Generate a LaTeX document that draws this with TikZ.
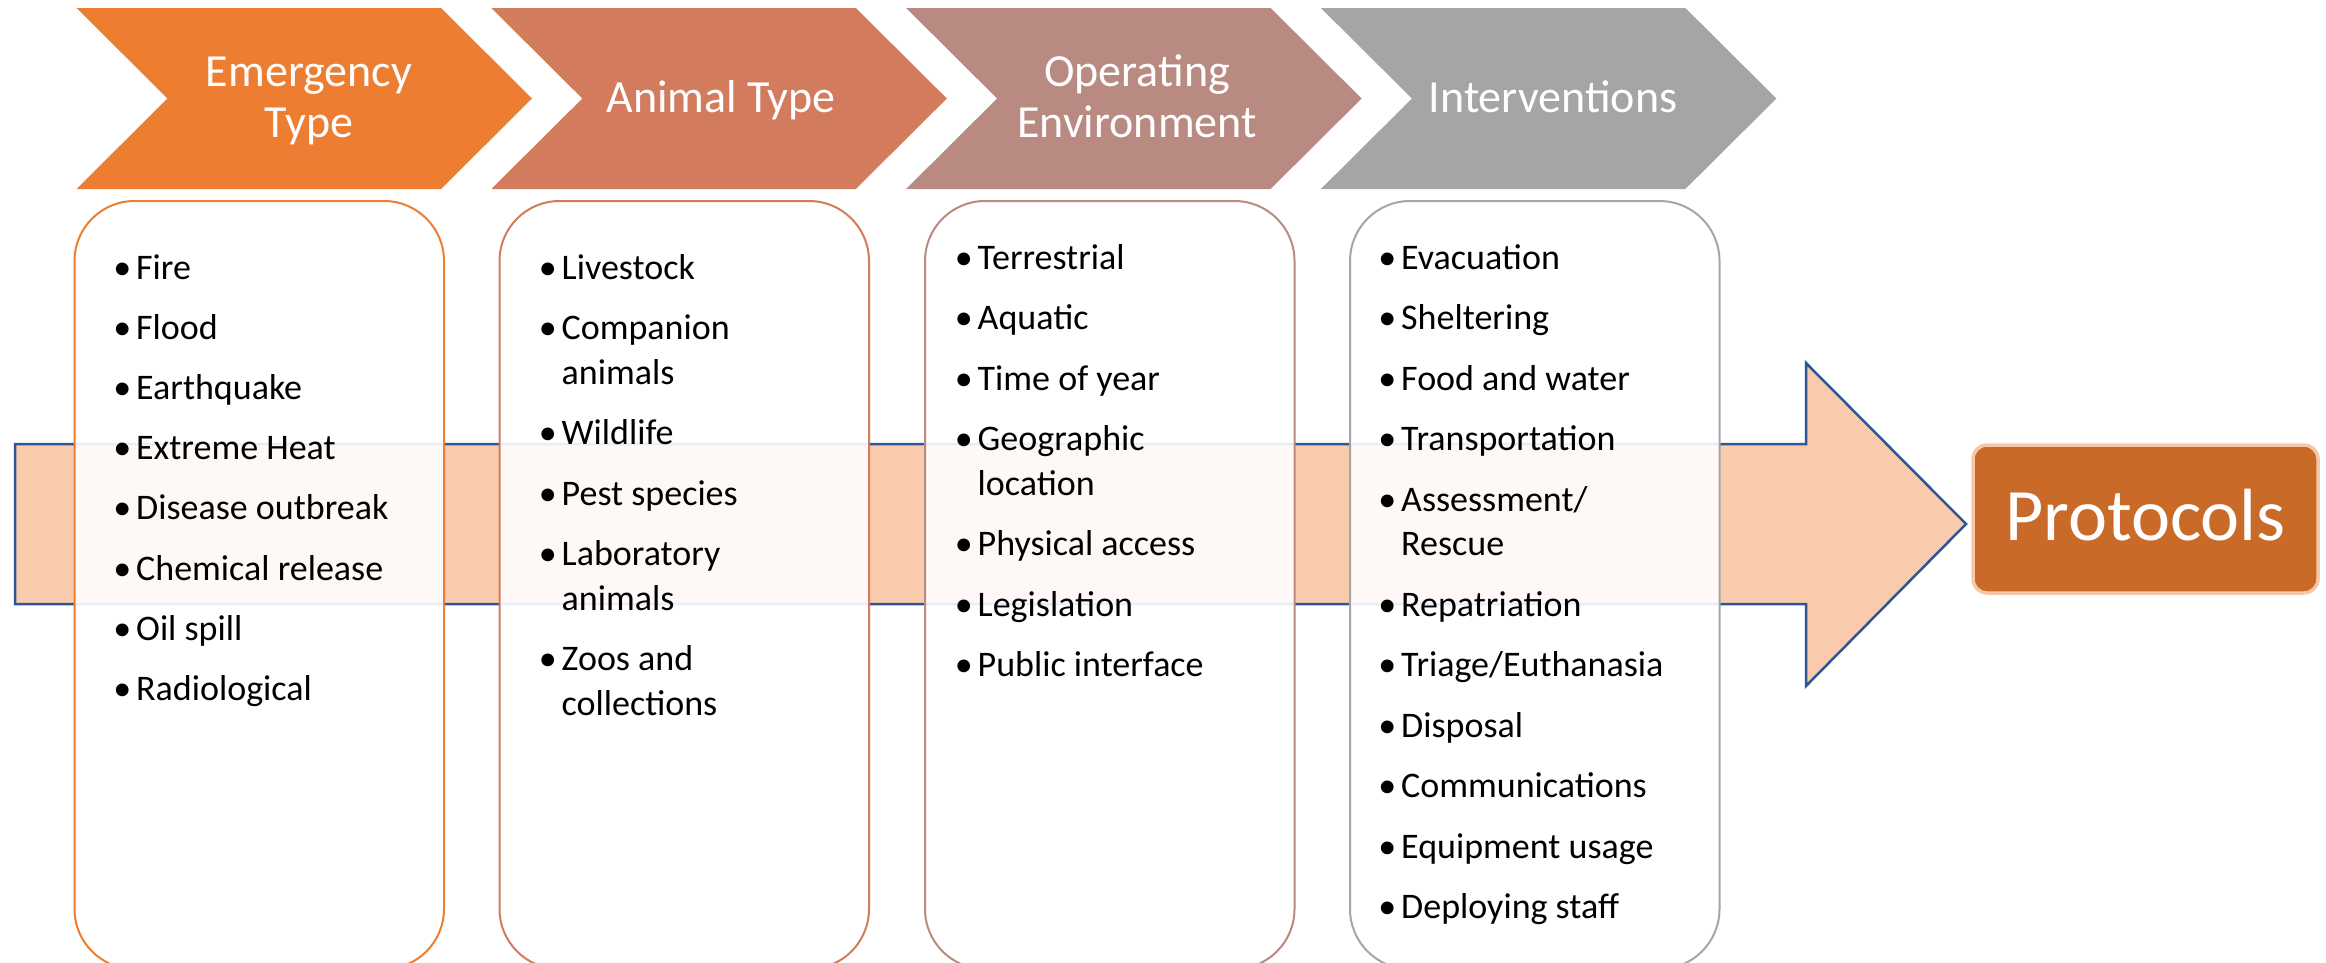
\documentclass[tikz,border=0pt]{standalone}
\usepackage{fontspec}
\setmainfont{Carlito}
\definecolor{cA}{HTML}{ED7D31}
\definecolor{cB}{HTML}{D27B5D}
\definecolor{cC}{HTML}{B98A81}
\definecolor{cD}{HTML}{A5A5A5}
\definecolor{arrowfill}{HTML}{F8CBAD}
\definecolor{arrowline}{HTML}{2F5597}
\definecolor{protofill}{HTML}{C96A29}
\definecolor{protoline}{HTML}{F6C8A8}
\newcommand\bl{\makebox[0pt][r]{\textbullet\kern5pt}}
\tikzset{
  ttl/.style={anchor=base, inner sep=0pt, text=white, font=\fontsize{46}{51}\selectfont},
  itm/.style={anchor=base west, inner sep=0pt, font=\fontsize{36}{44}\selectfont},
  listbox/.style={draw=#1, line width=2pt, fill=white, fill opacity=0.9, rounded corners=60pt,
    anchor=north west, minimum width=369.5pt, minimum height=768pt, inner sep=0pt},
  proto/.style={draw=protoline, line width=3.5pt, fill=protofill, rounded corners=14pt,
    minimum width=345pt, minimum height=148pt, inner sep=0pt, text=white,
    text height=42pt, text depth=0pt, font=\fontsize{74}{80}\selectfont}
}
\begin{document}
\begin{tikzpicture}[x=1pt,y=-1pt]
\useasboundingbox (0,0) rectangle (2326,962);
% chevrons
\fill[cA] (76.5,8) -- ++(364.5,0) -- ++(91,90.5) -- ++(-91,90.5) -- ++(-364.5,0) -- ++(91,-90.5) -- cycle;
\fill[cB] (491.3,8) -- ++(364.5,0) -- ++(91,90.5) -- ++(-91,90.5) -- ++(-364.5,0) -- ++(91,-90.5) -- cycle;
\fill[cC] (906.1,8) -- ++(364.5,0) -- ++(91,90.5) -- ++(-91,90.5) -- ++(-364.5,0) -- ++(91,-90.5) -- cycle;
\fill[cD] (1320.9,8) -- ++(364.5,0) -- ++(91,90.5) -- ++(-91,90.5) -- ++(-364.5,0) -- ++(91,-90.5) -- cycle;
\node[ttl] (t1a) at (309,86) {Emergency};
\node[ttl] (t1b) at (309,137) {Type};
\node[ttl] (t2) at (721,112) {Animal Type};
\node[ttl] (t3a) at (1137,86) {Operating};
\node[ttl] (t3b) at (1137,137) {Environment};
\node[ttl] (t4) at (1553,112) {Interventions};
% big arrow
\draw[fill=arrowfill, draw=arrowline, line width=2.5pt, line join=miter]
  (15,444) -- (1806,444) -- (1806,363) -- (1966,524) -- (1806,686) -- (1806,604) -- (15,604) -- cycle;
% list boxes
\node[listbox=cA] (b1) at (73.5,200) {};
\node[listbox=cB] (b2) at (498.5,200) {};
\node[listbox=cC] (b3) at (924,200) {};
\node[listbox=cD] (b4) at (1349,200) {};
% column 1
\node[itm] (e1) at (136,279) {\bl Fire};
\node[itm] (e2) at (136,339.2) {\bl Flood};
\node[itm] (e3) at (136,399.4) {\bl Earthquake};
\node[itm] (e4) at (136,459.6) {\bl Extreme Heat};
\node[itm] (e5) at (136,519.8) {\bl Disease outbreak};
\node[itm] (e6) at (136,580) {\bl Chemical release};
\node[itm] (e7) at (136,640.2) {\bl Oil spill};
\node[itm] (e8) at (136,700.4) {\bl Radiological};
% column 2
\node[itm] (a1) at (561.5,279) {\bl Livestock};
\node[itm] (a2) at (561.5,339.5) {\bl Companion};
\node[itm] (a2b) at (561.5,384) {animals};
\node[itm] (a3) at (561.5,444.5) {\bl Wildlife};
\node[itm] (a4) at (561.5,505) {\bl Pest species};
\node[itm] (a5) at (561.5,565.5) {\bl Laboratory};
\node[itm] (a5b) at (561.5,610) {animals};
\node[itm] (a6) at (561.5,670.5) {\bl Zoos and};
\node[itm] (a6b) at (561.5,715) {collections};
% column 3
\node[itm] (o1) at (977.5,269) {\bl Terrestrial};
\node[itm] (o2) at (977.5,329.5) {\bl Aquatic};
\node[itm] (o3) at (977.5,390) {\bl Time of year};
\node[itm] (o4) at (977.5,450.5) {\bl Geographic};
\node[itm] (o4b) at (977.5,495) {location};
\node[itm] (o5) at (977.5,555.5) {\bl Physical access};
\node[itm] (o6) at (977.5,616) {\bl Legislation};
\node[itm] (o7) at (977.5,676.5) {\bl Public interface};
% column 4
\node[itm] (i1) at (1401,269) {\bl Evacuation};
\node[itm] (i2) at (1401,329.5) {\bl Sheltering};
\node[itm] (i3) at (1401,390) {\bl Food and water};
\node[itm] (i4) at (1401,450.5) {\bl Transportation};
\node[itm] (i5) at (1401,511) {\bl Assessment/};
\node[itm] (i5b) at (1401,555.5) {Rescue};
\node[itm] (i6) at (1401,616) {\bl Repatriation};
\node[itm] (i7) at (1401,676.5) {\bl Triage/Euthanasia};
\node[itm] (i8) at (1401,737) {\bl Disposal};
\node[itm] (i9) at (1401,797.5) {\bl Communications};
\node[itm] (i10) at (1401,858) {\bl Equipment usage};
\node[itm] (i11) at (1401,918.5) {\bl Deploying staff};
% protocols
\node[proto] (p) at (2145.5,519) {Protocols};
\end{tikzpicture}
\end{document}
